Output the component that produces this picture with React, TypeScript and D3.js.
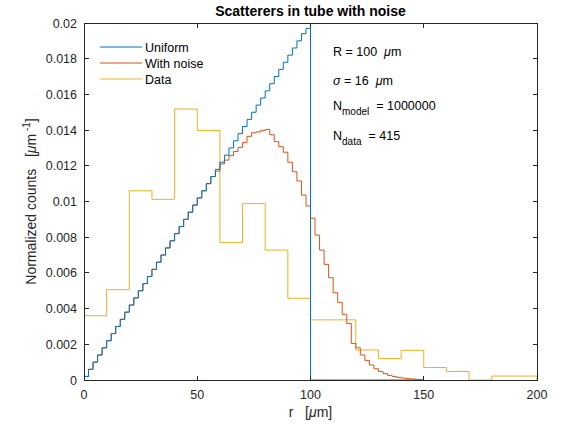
import React from "react";
import * as d3 from "d3";

// ---- data ----
const modelBinWidth = 2; // µm
const dataBinWidth = 10; // µm

const uniformValues = [
  0.0002, 0.0006, 0.001, 0.0014, 0.0018, 0.0022, 0.0026, 0.003, 0.0034, 0.0038,
  0.0042, 0.0046, 0.005, 0.0054, 0.0058, 0.0062, 0.0066, 0.007, 0.0074, 0.0078,
  0.0082, 0.0086, 0.009, 0.0094, 0.0098, 0.0102, 0.0106, 0.011, 0.0114, 0.0118,
  0.0122, 0.0126, 0.013, 0.0134, 0.0138, 0.0142, 0.0146, 0.015, 0.0154, 0.0158,
  0.0162, 0.0166, 0.017, 0.0174, 0.0178, 0.0182, 0.0186, 0.019, 0.0194, 0.0197,
  0, 0, 0, 0, 0, 0, 0, 0, 0, 0, 0, 0, 0, 0, 0, 0, 0, 0, 0, 0, 0, 0, 0, 0, 0,
];

const noiseValues = [
  0.0002, 0.0006, 0.001, 0.0014, 0.0018, 0.0022, 0.0026, 0.003, 0.0034, 0.0038,
  0.0042, 0.0046, 0.005, 0.0054, 0.0058, 0.0062, 0.0066, 0.007, 0.0074, 0.0078,
  0.0082, 0.0086, 0.009, 0.0094, 0.0098, 0.0102, 0.0106, 0.011, 0.0114,
  0.0117, 0.0121, 0.01232, 0.01257, 0.0128, 0.01303, 0.0133, 0.01365, 0.01385,
  0.0139, 0.01397, 0.01404, 0.01374, 0.01335, 0.01307, 0.01276, 0.0122, 0.01167,
  0.01115, 0.01036, 0.00975,
  0.00906, 0.00812, 0.00728, 0.00648, 0.00573, 0.00489, 0.00435, 0.00368,
  0.00317, 0.00205, 0.0018, 0.0014, 0.0011, 0.00084, 0.00063, 0.00048, 0.00036,
  0.00026, 0.0002, 0.00015, 0.00011, 0.00008, 0.00006, 0.00004, 0.00002,
];

const dataValues = [
  0.0036, 0.00506, 0.0106, 0.01012, 0.01518, 0.01398, 0.00771, 0.00988, 0.00728,
  0.00458, 0.00337, 0.00337, 0.00168, 0.0012, 0.00166, 0.0007, 0.00048, 0, 0.00022,
  0.00022,
];

const xTicks = [0, 50, 100, 150, 200];
const yTicks = [0, 0.002, 0.004, 0.006, 0.008, 0.01, 0.012, 0.014, 0.016, 0.018, 0.02];
const yTickLabels = ["0", "0.002", "0.004", "0.006", "0.008", "0.01", "0.012", "0.014", "0.016", "0.018", "0.02"];

const seriesNames = ["Uniform", "With noise", "Data"];
const seriesColors = ["#0072BD", "#D95319", "#EDB120"];

// ---- layout ----
const W = 562;
const H = 432;
const L = 84, R = 537, T = 23, B = 380;
const axisColor = "#262626";
const font = "'Liberation Sans', Arial, Helvetica, sans-serif";

const x = d3.scaleLinear().domain([0, 200]).range([L, R]);
const y = d3.scaleLinear().domain([0, 0.02]).range([B, T]);

function stairsPath(binWidth: number, values: number[]): string {
  const pts: [number, number][] = [];
  pts.push([x(0), y(0)]);
  values.forEach((v, i) => {
    pts.push([x(i * binWidth), y(v)]);
    pts.push([x((i + 1) * binWidth), y(v)]);
  });
  pts.push([x(values.length * binWidth), y(0)]);
  return d3.line()(pts) || "";
}

export default function App() {
  const tickLen = 4.5;
  return (
    <svg width={W} height={H} style={{ display: "block", position: "absolute", left: 0, top: 0, background: "#fff" }} fontFamily={font}>
      <rect x={0} y={0} width={W} height={H} fill="#fff" />
      <defs>
        <clipPath id="plot">
          <rect x={L} y={T - 1} width={R - L} height={B - T + 1} />
        </clipPath>
      </defs>

      {/* series */}
      <g clipPath="url(#plot)" fill="none" strokeWidth={1}>
        <path d={stairsPath(dataBinWidth, dataValues)} stroke={seriesColors[2]} />
        <path d={stairsPath(modelBinWidth, noiseValues)} stroke={seriesColors[1]} />
        <path d={stairsPath(modelBinWidth, uniformValues)} stroke={seriesColors[0]} />
      </g>

      {/* axes box */}
      <rect x={L} y={T} width={R - L} height={B - T} fill="none" stroke={axisColor} strokeWidth={1} shapeRendering="crispEdges" />
      {xTicks.map((t) => (
        <g key={"x" + t} stroke={axisColor} shapeRendering="crispEdges">
          <line x1={x(t)} x2={x(t)} y1={B} y2={B - tickLen} />
          <line x1={x(t)} x2={x(t)} y1={T} y2={T + tickLen} />
        </g>
      ))}
      {yTicks.map((t) => (
        <g key={"y" + t} stroke={axisColor} shapeRendering="crispEdges">
          <line x1={L} x2={L + tickLen} y1={y(t)} y2={y(t)} />
          <line x1={R} x2={R - tickLen} y1={y(t)} y2={y(t)} />
        </g>
      ))}
      {xTicks.map((t) => (
        <text key={"xl" + t} x={x(t)} y={B + 19} textAnchor="middle" fontSize={12.5} fill={axisColor}>
          {t}
        </text>
      ))}
      {yTicks.map((t, i) => (
        <text key={"yl" + t} x={L - 7} y={y(t) + 4.5} textAnchor="end" fontSize={12.5} fill={axisColor}>
          {yTickLabels[i]}
        </text>
      ))}

      {/* title */}
      <text x={(L + R) / 2} y={16} textAnchor="middle" fontSize={14} fontWeight="bold" fill="#000">
        Scatterers in tube with noise
      </text>

      {/* x label */}
      <text x={(L + R) / 2} y={417} textAnchor="middle" fontSize={14} fill={axisColor}>
        r{"\u00a0\u00a0\u00a0"}[<tspan fontStyle="italic">μ</tspan>m]
      </text>

      {/* y label */}
      <text transform={`translate(36, ${(T + B) / 2}) rotate(-90)`} textAnchor="middle" fontSize={14} fill={axisColor}>
        Normalized counts{"\u00a0\u00a0\u00a0"}[<tspan fontStyle="italic">μ</tspan>m
        <tspan fontSize={10} dy={-6}>{"\u00a0"}-1</tspan>
        <tspan dy={6}>]</tspan>
      </text>

      {/* legend */}
      {seriesNames.map((n, i) => (
        <g key={n}>
          <line x1={100} x2={142} y1={47 + i * 16} y2={47 + i * 16} stroke={seriesColors[i]} strokeWidth={1} />
          <text x={145} y={51.5 + i * 16} fontSize={12.5} fill="#000">
            {n}
          </text>
        </g>
      ))}

      {/* annotations */}
      <g fontSize={12.5} fill="#000">
        <text x={333} y={56}>
          R = 100{"\u00a0\u00a0"}<tspan fontStyle="italic">μ</tspan>m
        </text>
        <text x={333} y={85}>
          <tspan fontStyle="italic">σ</tspan> = 16{"\u00a0\u00a0"}<tspan fontStyle="italic">μ</tspan>m
        </text>
        <text x={333} y={110}>
          N<tspan fontSize={10} dy={5}>model</tspan>
          <tspan dy={-5}>{"\u00a0\u00a0"}= 1000000</tspan>
        </text>
        <text x={333} y={140}>
          N<tspan fontSize={10} dy={5}>data</tspan>
          <tspan dy={-5}>{"\u00a0\u00a0"}= 415</tspan>
        </text>
      </g>
    </svg>
  );
}
